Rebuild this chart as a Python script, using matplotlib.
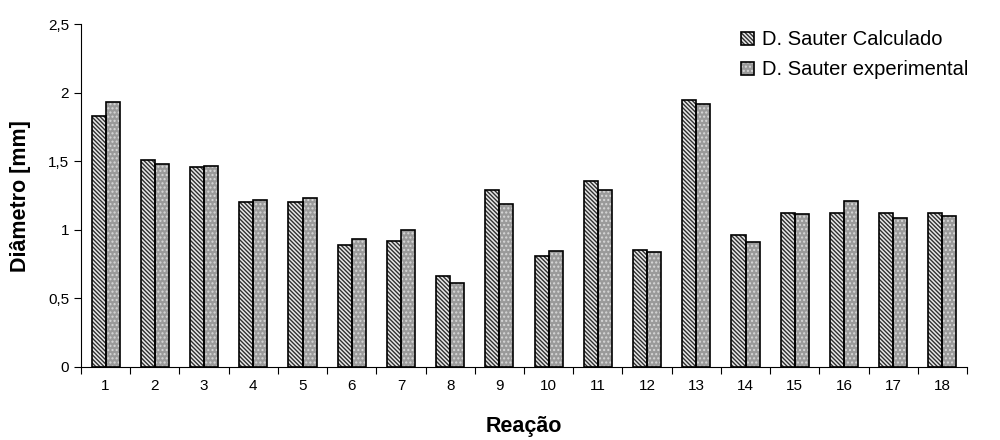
import matplotlib
matplotlib.use("Agg")
import matplotlib.pyplot as plt
import numpy as np

plt.rcParams['font.family'] = ['Liberation Sans', 'DejaVu Sans']

categories = [str(i) for i in range(1, 19)]
calculado = [1.83, 1.51, 1.455, 1.20, 1.20, 0.89, 0.92, 0.66, 1.29, 0.81, 1.355, 0.855, 1.945, 0.96, 1.125, 1.125, 1.125, 1.125]
experimental = [1.93, 1.48, 1.465, 1.215, 1.235, 0.935, 1.0, 0.615, 1.19, 0.845, 1.29, 0.835, 1.92, 0.915, 1.115, 1.21, 1.09, 1.10]
yticks = [0, 0.5, 1, 1.5, 2, 2.5]
ytick_labels = ['0', '0,5', '1', '1,5', '2', '2,5']
labels = ['D. Sauter Calculado', 'D. Sauter experimental']

fig = plt.figure(figsize=(10, 4.4), dpi=100)
ax = fig.add_axes([0.081, 0.166, 0.886, 0.779])

x = np.arange(1, len(categories) + 1)
w = 0.285

# hatched fills
b1 = ax.bar(x - w/2, calculado, w, color='#e8e8e8', edgecolor='#303030', hatch='\\\\\\\\\\\\\\\\', linewidth=0)
b2 = ax.bar(x + w/2, experimental, w, color='#9a9a9a', edgecolor='#d8d8d8', hatch='....', linewidth=0)
# outlines
o1 = ax.bar(x - w/2, calculado, w, fill=False, edgecolor='black', linewidth=1.2)
o2 = ax.bar(x + w/2, experimental, w, fill=False, edgecolor='black', linewidth=1.2)

ax.set_xlim(0.5, len(categories) + 0.5)
ax.set_ylim(0, 2.5)
ax.set_yticks(yticks)
ax.set_yticklabels(ytick_labels, fontsize=11)
ax.set_xticks(np.arange(0.5, len(categories) + 1, 1))
ax.set_xticklabels([])
ax.set_xticks(x, minor=True)
ax.set_xticklabels(categories, minor=True, fontsize=11)
ax.tick_params(axis='x', which='minor', length=0, pad=9)
ax.tick_params(axis='x', which='major', length=5, direction='out')
ax.tick_params(axis='y', length=5, direction='out')

for s in ['top', 'right']:
    ax.spines[s].set_visible(False)

ax.set_xlabel('Reação', fontsize=15.5, fontweight='bold', labelpad=16)
ax.set_ylabel('Diâmetro [mm]', fontsize=15.5, fontweight='bold', labelpad=12)

leg = ax.legend([(b1[0], o1[0]), (b2[0], o2[0])], labels, loc='upper right',
                bbox_to_anchor=(1.022, 1.035), frameon=False,
                fontsize=14.5, handlelength=0.65, handleheight=0.65, handletextpad=0.4, labelspacing=0.55)

fig.savefig('out.png', dpi=100)
